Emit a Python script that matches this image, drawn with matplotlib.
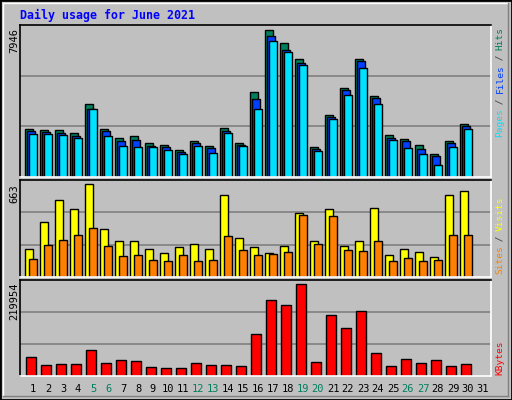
import matplotlib
matplotlib.use("Agg")
import matplotlib.pyplot as plt
from matplotlib.patches import Rectangle

days = list(range(1, 32))
hits  = [2607,2553,2553,2391,3955,2607,2121,2229,1852,1744,1474,1960,1690,2661,1852,4602,7946,7245,6382,1636,3362,4818,6382,4386,2283,2067,1744,1258,1960,2876]
files = [2481,2445,2391,2229,3685,2499,1960,2013,1690,1636,1366,1834,1582,2499,1744,4225,7622,6867,6166,1528,3254,4710,6274,4279,2121,1960,1528,1150,1852,2768]
pages = [2337,2337,2283,2121,3685,2229,1690,1636,1636,1474,1258,1690,1312,2391,1690,3685,7353,6759,6058,1420,3146,4440,5897,3955,2013,1582,1258,665,1636,2607]
visits = [203,390,548,483,663,340,261,261,203,175,218,239,203,584,282,218,175,225,455,261,483,225,261,491,160,203,182,146,584,613]
sites  = [132,232,268,297,354,225,153,160,124,117,160,117,124,290,196,160,168,182,440,239,433,196,189,261,117,139,117,124,304,304]
kbytes = [46562,27295,29702,29702,63420,32111,39336,36927,22478,20069,20069,32111,27295,27295,24886,101952,181426,169385,219954,34519,145302,113994,154935,56194,24886,41744,32111,39336,24886,29702]
weekends = [5, 6, 12, 13, 19, 20, 26, 27]
title = "Daily usage for June 2021"

W, H = 512, 400
BG = "#C0C0C0"
fig = plt.figure(figsize=(W/100, H/100), dpi=100, facecolor=BG)

def fx(px): return px / W
def fy(py): return 1 - py / H

# outer border / bevel
fig.add_artist(Rectangle((0, 0), 1, 1, transform=fig.transFigure, fill=False, ec="black", lw=2))
fig.add_artist(plt.Line2D([fx(3), fx(508)], [fy(3), fy(3)], transform=fig.transFigure, color="white", lw=1))
fig.add_artist(plt.Line2D([fx(3), fx(3)], [fy(3), fy(396)], transform=fig.transFigure, color="white", lw=1))
fig.add_artist(plt.Line2D([fx(3), fx(508)], [fy(396), fy(396)], transform=fig.transFigure, color="#808080", lw=1))
fig.add_artist(plt.Line2D([fx(508), fx(508)], [fy(3), fy(396)], transform=fig.transFigure, color="#808080", lw=1))

X0, X1 = 20, 491
def make_ax(top, bottom, ymax):
    ax = fig.add_axes([fx(X0), fy(bottom), fx(X1 - X0), (bottom - top) / H])
    ax.set_facecolor(BG)
    ax.set_xlim(0, X1 - X0)
    ax.set_ylim(0, ymax)
    ax.set_xticks([]); ax.set_yticks([])
    for y in (ymax / 3, 2 * ymax / 3):
        ax.axhline(y, color="#808080", lw=1.2, zorder=0)
    for s in ("left", "top"):
        ax.spines[s].set_color("black")
    for s in ("right", "bottom"):
        ax.spines[s].set_color("white")
    for s in ax.spines.values():
        s.set_linewidth(1.2)
    return ax

ax1 = make_ax(25, 177, 7946 * 152 / 147.4)
ax2 = make_ax(180, 277, 663 * 96.7 / 92.4)
ax3 = make_ax(280, 376, 219954 * 95.7 / 91.4)

n = len(hits)
left = [5 + 15 * i for i in range(n)]
ax1.bar([l + 0 for l in left], hits, width=7.5, align="edge", color="#00805C", ec="black", lw=1)
ax1.bar([l + 2 for l in left], files, width=7.5, align="edge", color="#0040FF", ec="black", lw=1)
ax1.bar([l + 4 for l in left], pages, width=7.5, align="edge", color="#00E0FF", ec="black", lw=1)
ax2.bar([l + 0 for l in left], visits, width=8, align="edge", color="#FFFF00", ec="black", lw=1)
ax2.bar([l + 4 for l in left], sites, width=7.5, align="edge", color="#FF8000", ec="black", lw=1)
ax3.bar([l + 1.3 for l in left], kbytes, width=10, align="edge", color="#FF0000", ec="black", lw=1)

mono = "DejaVu Sans Mono"
fig.text(fx(20), fy(15), title, color="#0000FF", family=mono, weight="bold", fontsize=8.4, va="center", ha="left")

for lab, ytop in (("7946", 28), ("663", 184), ("219954", 283)):
    fig.text(fx(14), fy(ytop), lab, rotation=90, family=mono, fontsize=7.5, ha="center", va="top", color="black")

# right side labels (bottom-to-top)
def right_label(parts, ytop):
    total = sum(len(t) for t, _ in parts)
    cw = 5.45
    y = ytop + total * cw
    for t, c in parts:
        fig.text(fx(500), fy(y), t, rotation=90, family=mono, fontsize=6.8, ha="center", va="bottom", color=c)
        y -= len(t) * cw

right_label([("Pages", "#00E0FF"), (" / ", "#404040"), ("Files", "#0040FF"), (" / ", "#404040"), ("Hits", "#00805C")], 28)
right_label([("Sites", "#FF8000"), (" / ", "#404040"), ("Visits", "#FFFF00")], 198)
right_label([("KBytes", "#FF0000")], 342)

for i, d in enumerate(days):
    c = "#00805C" if d in weekends else "black"
    fig.text(fx(X0 + 5 + 15 * i + 8), fy(389), str(d), family=mono, fontsize=7.5, ha="center", va="center", color=c)

fig.savefig("out.png", dpi=100, facecolor=BG)
